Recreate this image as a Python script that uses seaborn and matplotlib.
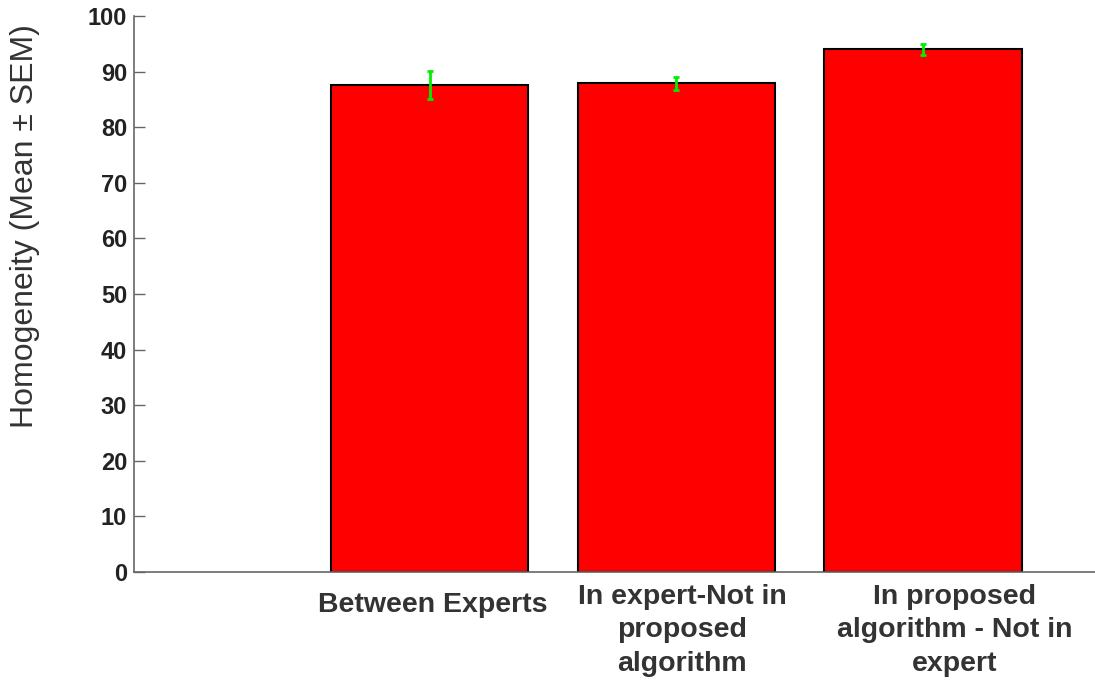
import pandas as pd
import matplotlib.pyplot as plt
import matplotlib.transforms as mtransforms
import seaborn as sns

# Datos
categorias = ["Between Experts",
              "In expert-Not in\nproposed\nalgorithm",
              "In proposed\nalgorithm - Not in\nexpert"]
medias = [87.6, 87.9, 94.0]
sem = [2.45, 1.2, 0.95]
yticks = [0, 10, 20, 30, 40, 50, 60, 70, 80, 90, 100]

df = pd.DataFrame({"Grupo": categorias, "Homogeneidad": medias, "SEM": sem})

sns.set_style("white")
plt.rcParams["font.family"] = ["Liberation Sans", "DejaVu Sans"]

fig = plt.figure(figsize=(10.95, 6.87), dpi=100)
ax = fig.add_axes([0.1224, 0.1674, 0.8776, 0.8093])

# Hueco vacío al principio, como en el original
orden = [""] + categorias
sns.barplot(data=df, x="Grupo", y="Homogeneidad", order=orden,
            color="#ff0000", saturation=1, width=0.8,
            edgecolor="black", linewidth=1.5, errorbar=None, ax=ax)

# Barras de error (media ± SEM) sobre cada barra
xs = [orden.index(c) for c in categorias]
ax.errorbar(xs, medias, yerr=sem, fmt="none", ecolor="#00ee00",
            elinewidth=2, capsize=2.5, capthick=2, zorder=5)

ax.set_xlim(-0.2, 3.698)
ax.set_ylim(0, 100)
ax.set_yticks(yticks)
ax.set_xlabel("")
ax.set_ylabel("Homogeneity (Mean ± SEM)", fontsize=23, color="#333333")
ax.yaxis.set_label_coords(-0.098, 0.622)

for lado in ["top", "right"]:
    ax.spines[lado].set_visible(False)
for lado in ["left", "bottom"]:
    ax.spines[lado].set_color("#666666")
    ax.spines[lado].set_linewidth(1.2)

ax.tick_params(axis="y", direction="in", length=8, width=1, color="#666666",
               labelsize=17, labelcolor="#222222", pad=5, left=True)
ax.tick_params(axis="x", length=0, labelsize=20.5, labelcolor="#333333", pad=8.5)
for t in ax.get_yticklabels():
    t.set_fontweight("bold")

# desplazamientos (px) de las etiquetas en el original
desplaza = {"Between Experts": (3, -8), categorias[1]: (6, 0), categorias[2]: (32, 0)}
for t in ax.get_xticklabels():
    t.set_fontweight("bold")
    t.set_linespacing(1.38)
    t.set_verticalalignment("top")
    if t.get_text() in desplaza:
        dx, dy = desplaza[t.get_text()]
        t.set_transform(t.get_transform() +
                        mtransforms.ScaledTranslation(dx / 100, dy / 100, fig.dpi_scale_trans))

plt.savefig("out.png", dpi=100)
